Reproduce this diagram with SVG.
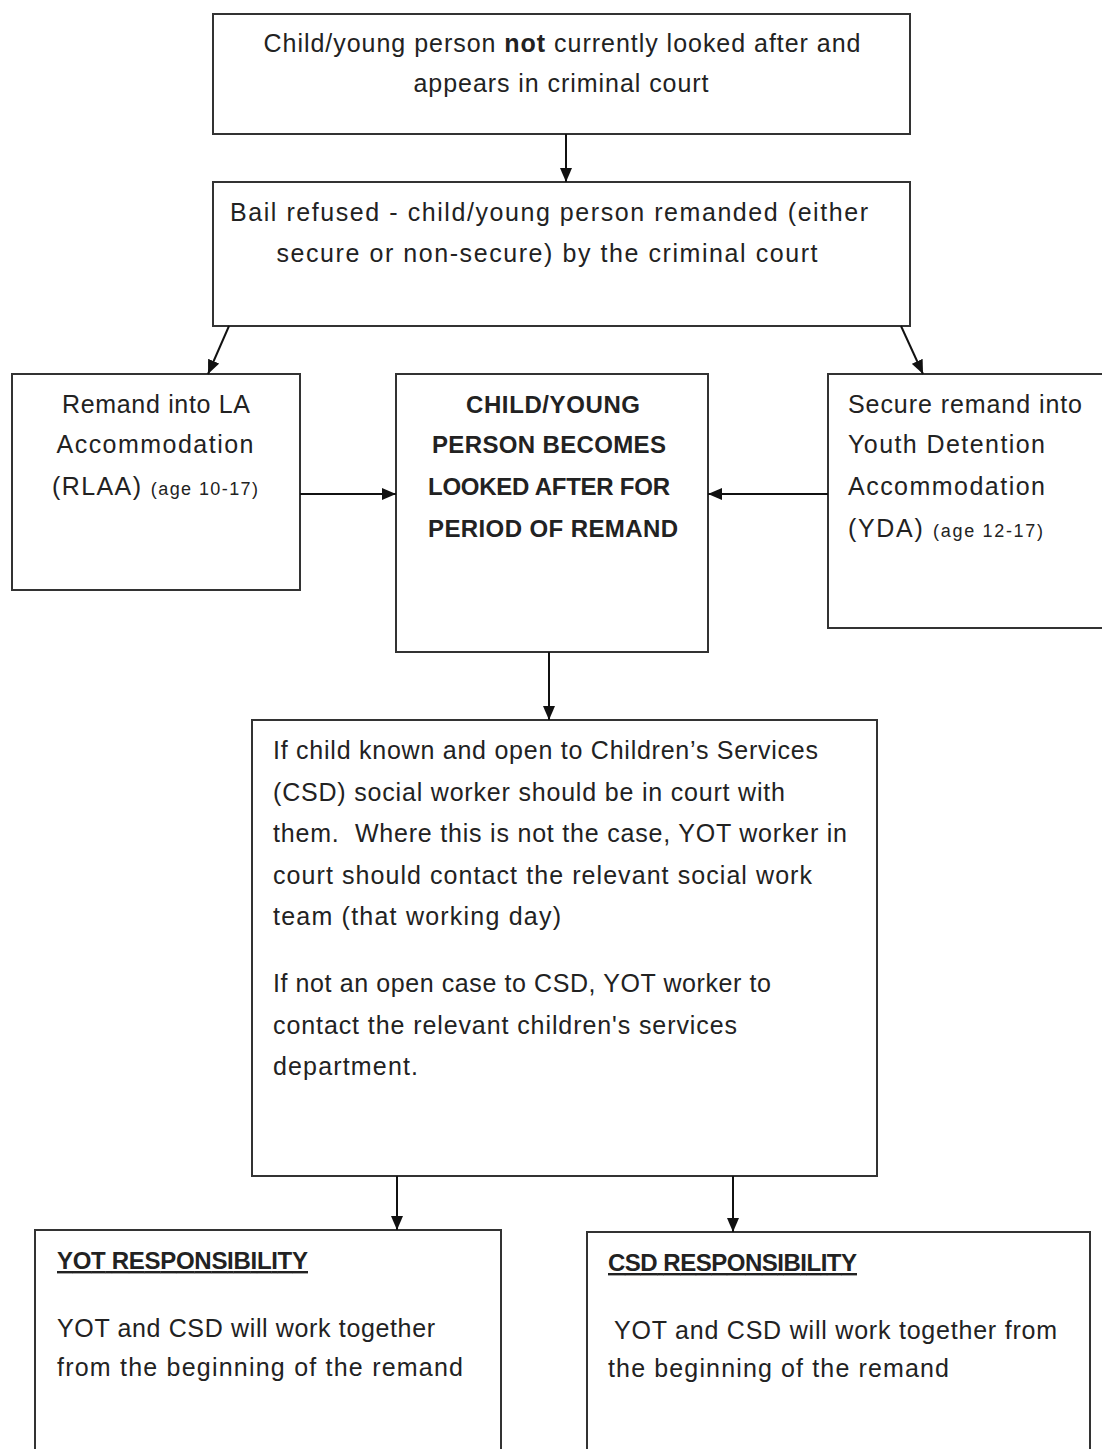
<svg xmlns="http://www.w3.org/2000/svg" width="1102" height="1449" viewBox="0 0 1102 1449">
<style>
.box{fill:#fff;stroke:#333;stroke-width:2}
.t{font-family:"Liberation Sans",Arial,sans-serif;font-size:25px;fill:#222}
.c{text-anchor:middle}
.b{font-weight:bold;font-size:24px}
.s{font-size:18px}
.u{text-decoration:underline}
.conn line{stroke:#111;stroke-width:2;marker-end:url(#ah)}
</style>
<defs>
<marker id="ah" markerUnits="userSpaceOnUse" markerWidth="14" markerHeight="12" refX="14" refY="6" orient="auto">
<path d="M0,0 L14,6 L0,12 z" fill="#111"/>
</marker>
</defs>
<rect width="1102" height="1449" fill="#fff"/>
<g id="n1">
<rect class="box" x="213" y="14" width="697" height="120"/>
<text class="t c" x="562" y="52" textLength="597">Child/young person <tspan font-weight="bold">not</tspan> currently looked after and</text>
<text class="t c" x="561" y="92" textLength="295">appears in criminal court</text>
</g>
<g id="n2">
<rect class="box" x="213" y="182" width="697" height="144"/>
<text class="t c" x="549" y="221" textLength="638">Bail refused - child/young person remanded (either</text>
<text class="t c" x="547" y="262" textLength="541">secure or non-secure) by the criminal court</text>
</g>
<g id="n3">
<rect class="box" x="12" y="374" width="288" height="216"/>
<text class="t c" x="156" y="413" textLength="188">Remand into LA</text>
<text class="t c" x="155" y="453" textLength="197">Accommodation</text>
<text class="t c" x="155" y="495" textLength="206">(RLAA) <tspan class="s">(age 10-17)</tspan></text>
</g>
<g id="n4">
<rect class="box" x="396" y="374" width="312" height="278"/>
<text class="t c b" x="553" y="413" textLength="174">CHILD/YOUNG</text>
<text class="t c b" x="549" y="453" textLength="234">PERSON BECOMES</text>
<text class="t c b" x="549" y="495" textLength="242">LOOKED AFTER FOR</text>
<text class="t c b" x="553" y="537" textLength="250">PERIOD OF REMAND</text>
</g>
<g id="n5">
<rect class="box" x="828" y="374" width="300" height="254"/>
<text class="t" x="848" y="413" textLength="234">Secure remand into</text>
<text class="t" x="848" y="453" textLength="197">Youth Detention</text>
<text class="t" x="848" y="495" textLength="197">Accommodation</text>
<text class="t" x="848" y="537" textLength="195">(YDA) <tspan class="s">(age 12-17)</tspan></text>
</g>
<g id="n6">
<rect class="box" x="252" y="720" width="625" height="456"/>
<text class="t" x="273" y="759" textLength="545">If child known and open to Children’s Services</text>
<text class="t" x="273" y="801" textLength="512">(CSD) social worker should be in court with</text>
<text class="t" x="273" y="842" textLength="574" xml:space="preserve">them.  Where this is not the case, YOT worker in</text>
<text class="t" x="273" y="884" textLength="539">court should contact the relevant social work</text>
<text class="t" x="273" y="925" textLength="288">team (that working day)</text>
<text class="t" x="273" y="992" textLength="498">If not an open case to CSD, YOT worker to</text>
<text class="t" x="273" y="1034" textLength="464">contact the relevant children's services</text>
<text class="t" x="273" y="1075" textLength="145">department.</text>
</g>
<g id="n7">
<rect class="box" x="35" y="1230" width="466" height="240"/>
<text class="t b u" x="57" y="1269" textLength="251">YOT RESPONSIBILITY</text>
<text class="t" x="57" y="1337" textLength="378">YOT and CSD will work together</text>
<text class="t" x="57" y="1376" textLength="406">from the beginning of the remand</text>
</g>
<g id="n8">
<rect class="box" x="587" y="1232" width="503" height="240"/>
<text class="t b u" x="608" y="1271" textLength="249">CSD RESPONSIBILITY</text>
<text class="t" x="614" y="1339" textLength="443">YOT and CSD will work together from</text>
<text class="t" x="608" y="1377" textLength="341">the beginning of the remand</text>
</g>
<g id="connectors" class="conn">
<line x1="566" y1="134" x2="566" y2="182"/>
<line x1="229" y1="326" x2="208" y2="374"/>
<line x1="901" y1="326" x2="923" y2="374"/>
<line x1="300" y1="494" x2="396" y2="494"/>
<line x1="828" y1="494" x2="708" y2="494"/>
<line x1="549" y1="652" x2="549" y2="720"/>
<line x1="397" y1="1176" x2="397" y2="1230"/>
<line x1="733" y1="1176" x2="733" y2="1232"/>
</g>
</svg>
